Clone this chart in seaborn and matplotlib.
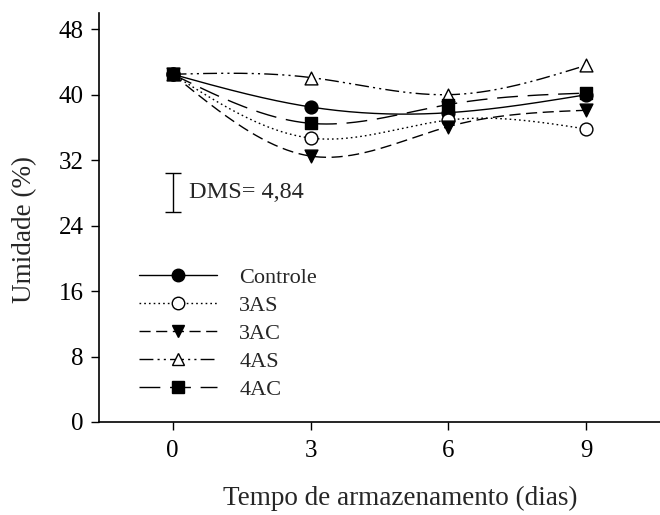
import numpy as np
import matplotlib
matplotlib.use("Agg")
import matplotlib.pyplot as plt
from matplotlib.lines import Line2D
import seaborn as sns

# Storage time (days) and moisture (%) per treatment
dias = [0, 3, 6, 9]
controle = [42.5, 38.5, 37.8, 40.0]
t3as = [42.5, 34.7, 36.9, 35.8]
t3ac = [42.5, 32.5, 36.1, 38.1]
t4as = [42.5, 42.1, 40.0, 43.6]
t4ac = [42.5, 36.5, 38.8, 40.2]
series_names = ["Controle", "3AS", "3AC", "4AS", "4AC"]
dms = 4.84
yticks = [0, 8, 16, 24, 32, 40, 48]
xticks = [0, 3, 6, 9]

sns.set_style("ticks")
plt.rcParams["font.family"] = ["Liberation Serif", "DejaVu Serif"]


def natural_spline(x, y, n=200):
    """Natural cubic spline through the points, for a smooth connecting curve."""
    x = np.asarray(x, float)
    y = np.asarray(y, float)
    k = len(x)
    h = np.diff(x)
    A = np.zeros((k, k))
    r = np.zeros(k)
    A[0, 0] = A[-1, -1] = 1.0
    for i in range(1, k - 1):
        A[i, i - 1] = h[i - 1]
        A[i, i] = 2 * (h[i - 1] + h[i])
        A[i, i + 1] = h[i]
        r[i] = 6 * ((y[i + 1] - y[i]) / h[i] - (y[i] - y[i - 1]) / h[i - 1])
    m = np.linalg.solve(A, r)
    xs = np.linspace(x[0], x[-1], n)
    idx = np.clip(np.searchsorted(x, xs) - 1, 0, k - 2)
    x0, x1 = x[idx], x[idx + 1]
    hh = x1 - x0
    a = (x1 - xs) / hh
    b = (xs - x0) / hh
    ys = (a * y[idx] + b * y[idx + 1]
          + ((a ** 3 - a) * m[idx] + (b ** 3 - b) * m[idx + 1]) * hh ** 2 / 6)
    return xs, ys


values = [controle, t3as, t3ac, t4as, t4ac]
markers = ["o", "o", "v", "^", "s"]
faces = ["black", "white", "black", "white", "black"]
dashes = [(None, None), (1.2, 2.2), (8, 4), (10, 3, 1.5, 3, 1.5, 3), (15, 7)]

fig = plt.figure(figsize=(6.6, 5.15), dpi=100)
ax = fig.add_axes([0.15, 0.1806, 0.85, 0.7944])

handles = []
for name, vals, mk, fc, ds in zip(series_names, values, markers, faces, dashes):
    xs, ys = natural_spline(dias, vals)
    line = sns.lineplot(x=xs, y=ys, ax=ax, color="black", lw=1.0, sort=False).lines[-1]
    if ds[0] is not None:
        line.set_dashes(ds)
    sns.scatterplot(x=dias, y=vals, ax=ax, marker=mk, s=85, color=fc,
                    edgecolor="black", linewidth=1.0, zorder=5)
    h = Line2D([], [], color="black", lw=1.0, marker=mk, markersize=9,
               markerfacecolor=fc, markeredgecolor="black", markeredgewidth=1.0)
    if ds[0] is not None:
        h.set_dashes(ds)
    handles.append(h)

# Least significant difference bar
ax.errorbar([0.0], [28.05], yerr=dms / 2, color="black", lw=1.0,
            capsize=6, capthick=1.0, fmt="none")
ax.text(0.35, 28.05, f"DMS= {str(dms).replace('.', ',')}", fontsize=17.5,
        va="center", ha="left")

ax.legend(handles, series_names, loc="upper left", bbox_to_anchor=(0.052, 0.405),
          frameon=False, fontsize=16, handlelength=3.5, handletextpad=1.0,
          labelspacing=0.33, borderpad=0)

ax.set_xlim(-1.6, 10.6)
ax.set_ylim(0, 50)
ax.set_xticks(xticks)
ax.set_yticks(yticks)
ax.tick_params(axis="both", labelsize=18, direction="out", length=6, width=1.0,
               colors="black")
ax.tick_params(axis="y", pad=5)
ax.tick_params(axis="x", pad=7)
ax.set_xlabel("Tempo de armazenamento (dias)", fontsize=19.5)
ax.set_ylabel("Umidade (%)", fontsize=19.5)
ax.xaxis.set_label_coords(0.537, -0.155)
ax.yaxis.set_label_coords(-0.11, 0.47)
for s in ["top", "right"]:
    ax.spines[s].set_visible(False)
for s in ["left", "bottom"]:
    ax.spines[s].set_linewidth(1.2)
    ax.spines[s].set_color("black")

fig.savefig("out.png", dpi=100)
